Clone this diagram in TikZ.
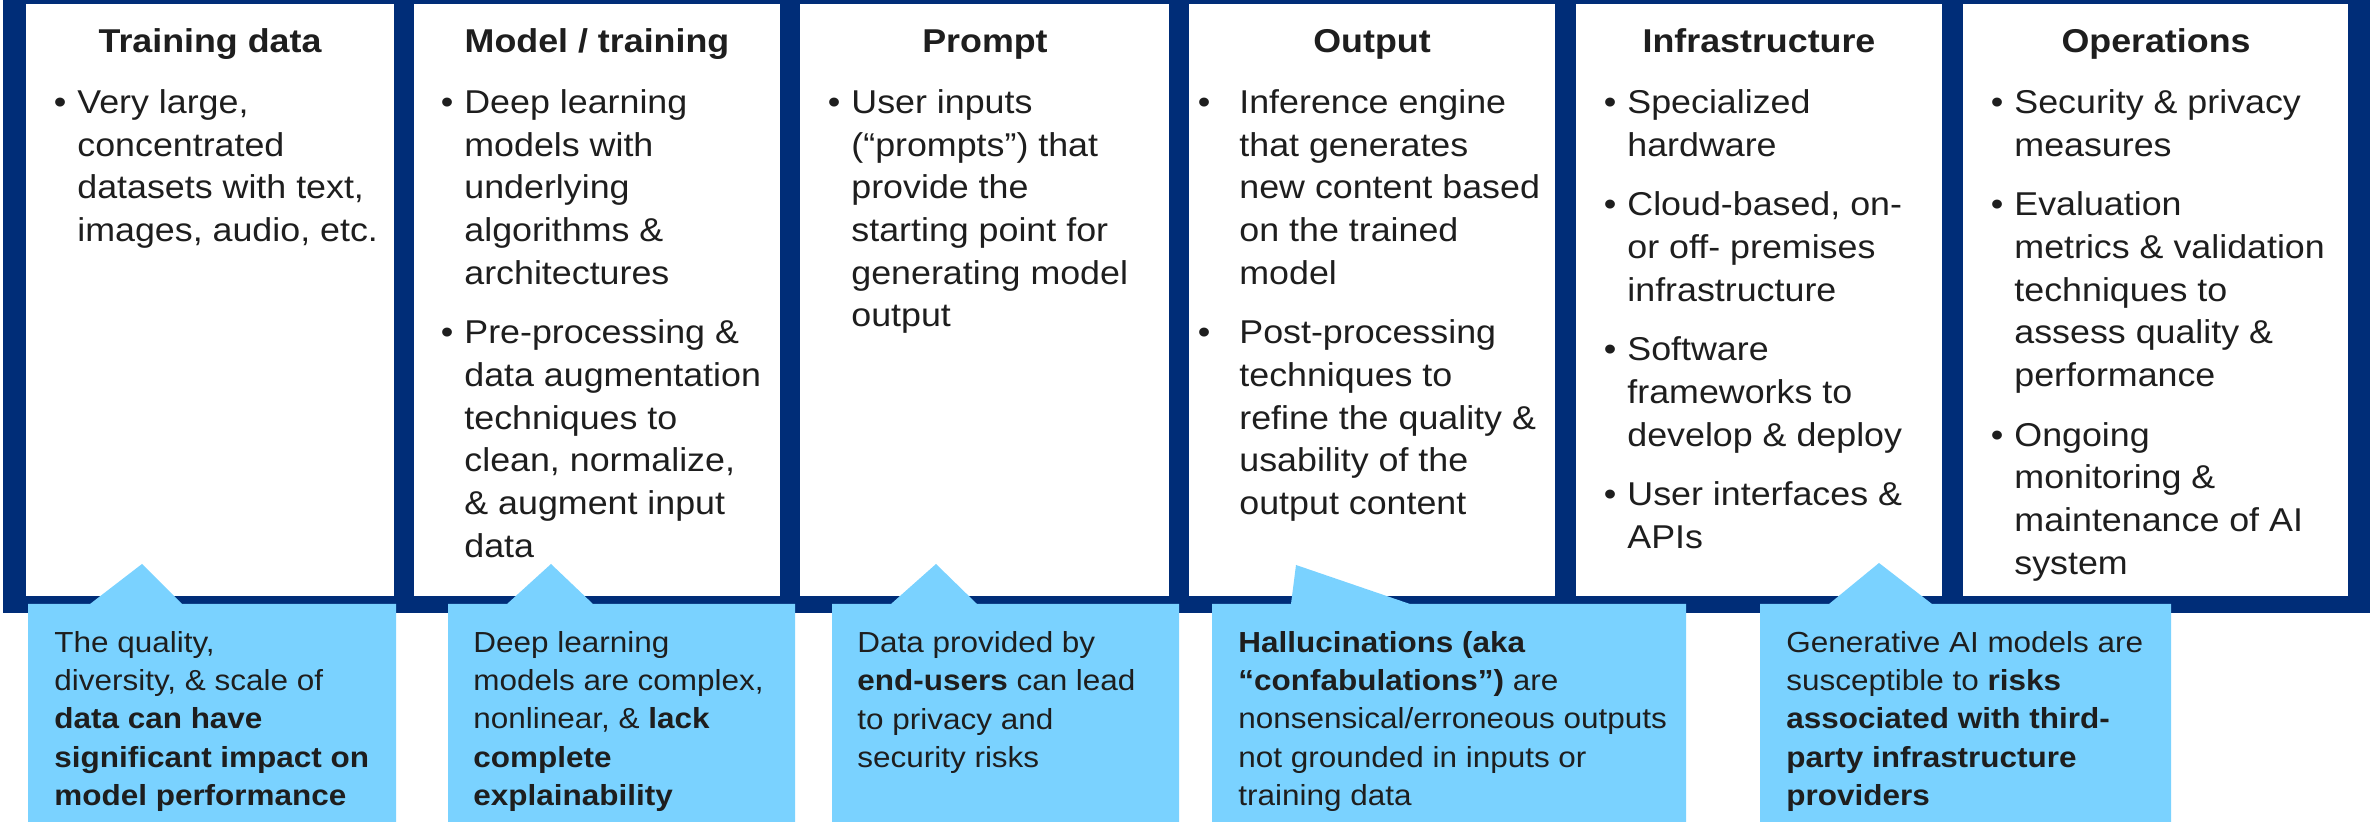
\documentclass[tikz,border=0pt]{standalone}
\usepackage{fontspec}
\setmainfont{Liberation Sans}[FakeStretch=1.085]
\definecolor{navy}{RGB}{0,45,120}
\definecolor{callblue}{RGB}{122,210,255}
\definecolor{txt}{RGB}{30,30,30}
\newcommand{\lstrut}{\rule{0pt}{14pt}}
\newcommand{\nstrut}{\rule{0pt}{12pt}}
\newcommand{\bul}[1][5.5pt]{\llap{\textbullet\hspace{#1}}}

\begin{document}
\begin{tikzpicture}[x=0.5pt,y=-0.5pt,
  head/.style={anchor=base,inner sep=0pt,text=txt,font=\bfseries\fontsize{16.5}{20}\selectfont},
  body/.style={anchor=north west,align=left,inner sep=0pt,text=txt,font=\fontsize{16.5}{21.35}\selectfont},
  note/.style={anchor=north west,align=left,inner sep=0pt,text=txt,font=\fontsize{14.5}{19.15}\selectfont}]

\useasboundingbox (0,0) rectangle (2377,822);

% navy frame
\fill[navy] (3,0) rectangle (2370,613);

% white panels
\fill[white] (26,4) rectangle (394,596);
\fill[white] (414,4) rectangle (780,596);
\fill[white] (800,4) rectangle (1169,596);
\fill[white] (1189,4) rectangle (1555,596);
\fill[white] (1576,4) rectangle (1942,596);
\fill[white] (1963,4) rectangle (2348,596);

% headings
\node[head] (h1) at (210,53) {Training data};
\node[head] (h2) at (597,53) {Model / training};
\node[head] (h3) at (985,53) {Prompt};
\node[head] (h4) at (1372,53) {Output};
\node[head] (h5) at (1759,53) {Infrastructure};
\node[head] (h6) at (2156,53) {Operations};

% panel texts
\node[body] (b1) at (77,85) {\lstrut\bul Very large,\\ concentrated\\ datasets with text,\\ images, audio, etc.};
\node[body] (b2) at (464,85) {\lstrut\bul Deep learning\\ models with\\ underlying\\ algorithms \&\\ architectures\\[8.5pt]\bul Pre-processing \&\\ data augmentation\\ techniques to\\ clean, normalize,\\ \& augment input\\ data};
\node[body] (b3) at (851,85) {\lstrut\bul User inputs\\ (“prompts”) that\\ provide the\\ starting point for\\ generating model\\ output};
\node[body] (b4) at (1239,85) {\lstrut\bul[14.5pt]Inference engine\\ that generates\\ new content based\\ on the trained\\ model\\[8.5pt]\bul[14.5pt]Post-processing\\ techniques to\\ refine the quality \&\\ usability of the\\ output content};
\node[body] (b5) at (1627,85) {\lstrut\bul Specialized\\ hardware\\[8.5pt]\bul Cloud-based, on-\\ or off- premises\\ infrastructure\\[8.5pt]\bul Software\\ frameworks to\\ develop \& deploy\\[8.5pt]\bul User interfaces \&\\ APIs};
\node[body] (b6) at (2014,85) {\lstrut\bul Security \& privacy\\ measures\\[8.5pt]\bul Evaluation\\ metrics \& validation\\ techniques to\\ assess quality \&\\ performance\\[8.5pt]\bul Ongoing\\ monitoring \&\\ maintenance of AI\\ system};

% callouts
\fill[callblue] (28,604) -- (90,604) -- (142,564) -- (182,604) -- (396,604) -- (396,822) -- (28,822) -- cycle;
\fill[callblue] (448,604) -- (507,604) -- (551,564) -- (593,604) -- (795,604) -- (795,822) -- (448,822) -- cycle;
\fill[callblue] (832,604) -- (891,604) -- (936,564) -- (977,604) -- (1179,604) -- (1179,822) -- (832,822) -- cycle;
\fill[callblue] (1212,604) -- (1291,604) -- (1296,565) -- (1410,604) -- (1686,604) -- (1686,822) -- (1212,822) -- cycle;
\fill[callblue] (1760,604) -- (1829,604) -- (1879,563) -- (1932,604) -- (2171,604) -- (2171,822) -- (1760,822) -- cycle;

% callout texts
\node[note] (n1) at (54,628) {\nstrut The quality,\\ diversity, \& scale of\\ \textbf{data can have}\\ \textbf{significant impact on}\\ \textbf{model performance}};
\node[note] (n2) at (473,628) {\nstrut Deep learning\\ models are complex,\\ nonlinear, \& \textbf{lack}\\ \textbf{complete}\\ \textbf{explainability}};
\node[note] (n3) at (857,628) {\nstrut Data provided by\\ \textbf{end-users} can lead\\ to privacy and\\ security risks};
\node[note] (n4) at (1238,628) {\nstrut\textbf{Hallucinations (aka}\\ \textbf{“confabulations”)} are\\ nonsensical/erroneous outputs\\ not grounded in inputs or\\ training data};
\node[note] (n5) at (1786,628) {\nstrut Generative AI models are\\ susceptible to \textbf{risks}\\ \textbf{associated with third-}\\ \textbf{party infrastructure}\\ \textbf{providers}};

\end{tikzpicture}
\end{document}
